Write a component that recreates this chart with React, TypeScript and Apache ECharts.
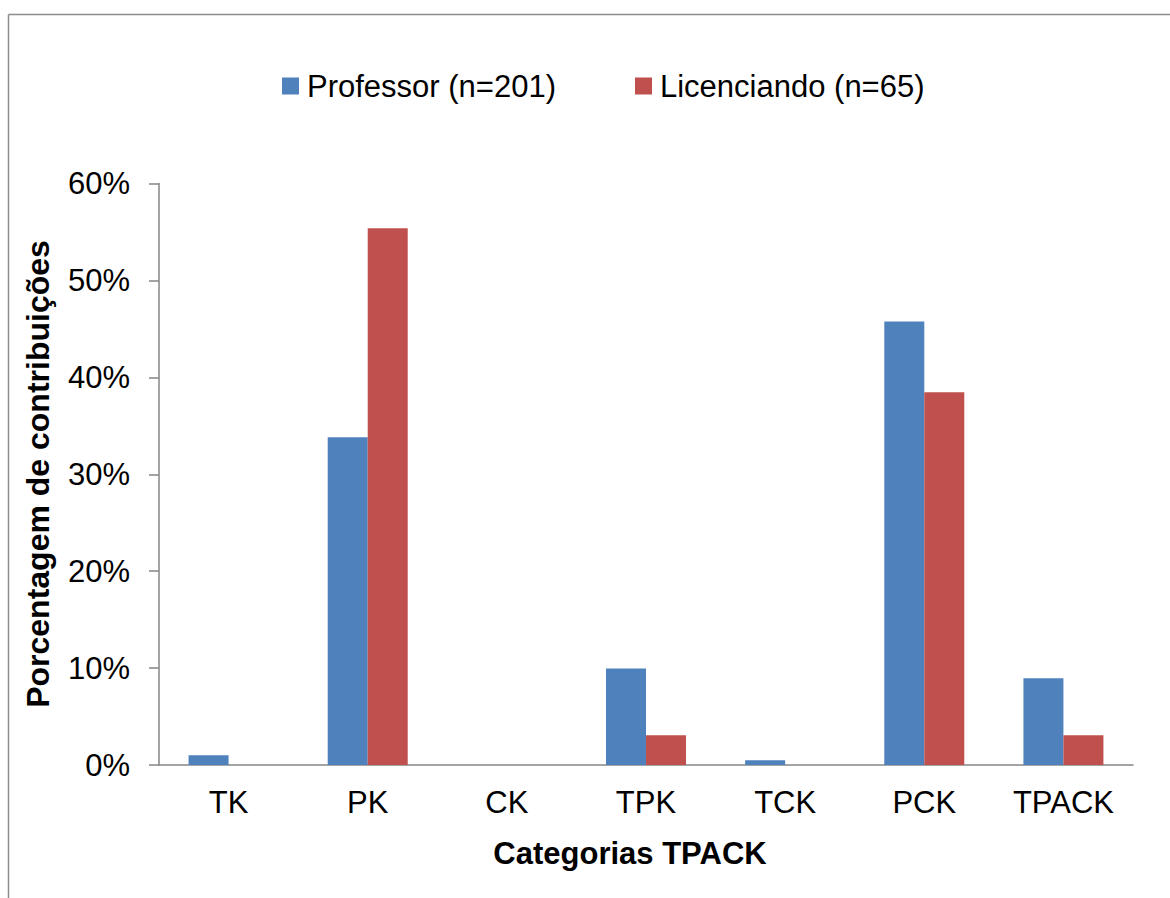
import React, { useEffect, useRef } from "react";
import * as echarts from "echarts";

// TPACK categories on the horizontal axis
const categories = ["TK", "PK", "CK", "TPK", "TCK", "PCK", "TPACK"];

// Share of contributions (%) per category
const professorValues = [1.0, 33.83, 0, 9.95, 0.5, 45.77, 8.96];
const licenciandoValues = [0, 55.38, 0, 3.08, 0, 38.46, 3.08];

const seriesNames = ["Professor (n=201)", "Licenciando (n=65)"];
const yTicks = [0, 10, 20, 30, 40, 50, 60];

const FONT = "Arial, 'Liberation Sans', Helvetica, sans-serif";
const AXIS_GRAY = "#868686";

export default function App() {
  const ref = useRef<HTMLDivElement>(null);

  useEffect(() => {
    document.body.style.margin = "0";
    if (!ref.current) return;
    const chart = echarts.init(ref.current, undefined, { renderer: "svg" });

    chart.setOption({
      animation: false,
      backgroundColor: "#ffffff",
      textStyle: { fontFamily: FONT, color: "#000" },
      legend: {
        left: 277,
        top: 65.5,
        itemWidth: 17,
        itemHeight: 17,
        itemGap: 79,
        icon: "rect",
        textStyle: {
          fontFamily: FONT,
          fontSize: 31,
          color: "#000",
          padding: [0, 0, 0, 3],
        },
        data: seriesNames,
      },
      grid: {
        left: 159,
        right: 37,
        top: 183.5,
        bottom: 133,
        containLabel: false,
      },
      xAxis: {
        type: "category",
        data: categories,
        axisLine: { show: true, lineStyle: { color: AXIS_GRAY, width: 1.5 } },
        axisTick: { show: false },
        axisLabel: {
          fontFamily: FONT,
          fontSize: 31,
          color: "#000",
          margin: 37.5,
          verticalAlign: "middle",
        },
        splitLine: { show: false },
      },
      yAxis: {
        type: "value",
        min: yTicks[0],
        max: yTicks[yTicks.length - 1],
        interval: yTicks[1] - yTicks[0],
        axisLine: { show: true, lineStyle: { color: AXIS_GRAY, width: 1.5 } },
        axisTick: {
          show: true,
          inside: false,
          length: 10,
          lineStyle: { color: AXIS_GRAY, width: 1.5 },
        },
        axisLabel: {
          fontFamily: FONT,
          fontSize: 31,
          color: "#000",
          margin: 29,
          verticalAlign: "middle",
          formatter: "{value}%",
        },
        splitLine: { show: false },
      },
      series: [
        {
          name: seriesNames[0],
          type: "bar",
          data: professorValues,
          barWidth: 40,
          barGap: "0%",
          itemStyle: { color: "#4F81BD" },
        },
        {
          name: seriesNames[1],
          type: "bar",
          data: licenciandoValues,
          barWidth: 40,
          barGap: "0%",
          itemStyle: { color: "#C0504D" },
        },
      ],
      graphic: [
        {
          type: "line",
          shape: { x1: 8.5, y1: 14.5, x2: 1170, y2: 14.5 },
          style: { stroke: "#8c8c8c", lineWidth: 1.5 },
          silent: true,
        },
        {
          type: "line",
          shape: { x1: 8.5, y1: 14.5, x2: 8.5, y2: 898 },
          style: { stroke: "#8c8c8c", lineWidth: 1.5 },
          silent: true,
        },
        {
          type: "text",
          x: 630,
          y: 853,
          style: {
            text: "Categorias TPACK",
            fontFamily: FONT,
            fontSize: 31,
            fontWeight: "bold",
            fill: "#000",
            align: "center",
            verticalAlign: "middle",
          },
        },
        {
          type: "text",
          x: 38,
          y: 474,
          rotation: Math.PI / 2,
          style: {
            text: "Porcentagem de contribuições",
            fontFamily: FONT,
            fontSize: 32,
            fontWeight: "bold",
            fill: "#000",
            align: "center",
            verticalAlign: "middle",
          },
        },
      ],
    });

    return () => chart.dispose();
  }, []);

  return <div ref={ref} style={{ width: 1170, height: 898 }} />;
}
